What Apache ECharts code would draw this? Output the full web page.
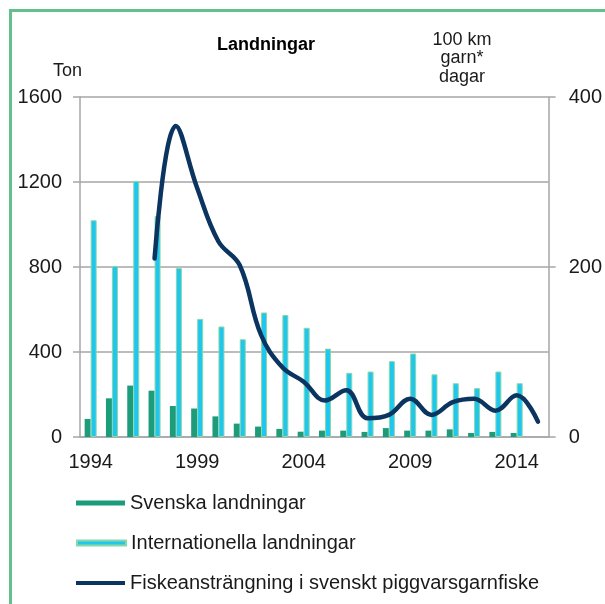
<!DOCTYPE html>
<html>
<head>
<meta charset="utf-8">
<script src="https://cdn.jsdelivr.net/npm/echarts@6/dist/echarts.min.js"></script>
<style>
  html, body { margin: 0; padding: 0; background: #fff; }
  #chart { width: 605px; height: 604px; }
</style>
</head>
<body>
<div id="chart"></div>
<script>
// år 1994-2015
var years = ['1994', '1995', '1996', '1997', '1998', '1999', '2000', '2001', '2002', '2003', '2004',
  '2005', '2006', '2007', '2008', '2009', '2010', '2011', '2012', '2013', '2014', '2015'];
// landningar i ton
var svenska = [85, 182, 242, 218, 146, 134, 97, 63, 49, 38, 25, 30, 30, 24, 42, 30, 30, 36, 19, 24, 19, null];
var internationella = [1020, 805, 1205, 1040, 795, 556, 520, 460, 586, 574, 514, 416, 302, 308, 357, 393, 295, 253, 230, 308, 253, null];
// 100 km garn * dagar
var anstrangning = [null, null, null, 210, 366, 293, 230, 202, 120, 82, 65, 43, 55, 22, 26, 45, 26, 41, 45, 31, 49, 18];
// enhetsrubrik för högra axeln
var enhet = ['100 km', 'garn*', 'dagar'];

var chart = echarts.init(document.getElementById('chart'));
var font = 'Liberation Sans, Arial, sans-serif';
var grey = '#a6a6a6';

function legendBox(name, top, h) {
  return {
    data: [name], left: 71, top: top, icon: 'rect',
    itemWidth: 49, itemHeight: h, itemGap: 0,
    textStyle: { fontSize: 20, color: '#1a1a1a' }
  };
}

var graphics = [
  // grön ram, överkant och vänsterkant
  { type: 'rect', shape: { x: 9, y: 9, width: 596, height: 3 }, style: { fill: '#63c08e' } },
  { type: 'rect', shape: { x: 9, y: 9, width: 3, height: 595 }, style: { fill: '#63c08e' } },
  {
    type: 'text', x: 266, y: 45,
    style: { text: 'Landningar', font: 'bold 18px ' + font, fill: '#000', textAlign: 'center', textVerticalAlign: 'middle' }
  },
  {
    type: 'text', x: 53, y: 71,
    style: { text: 'Ton', font: '18px ' + font, fill: '#1a1a1a', textAlign: 'left', textVerticalAlign: 'middle' }
  }
];
enhet.forEach(function (t, i) {
  graphics.push({
    type: 'text', x: 462, y: 40 + i * 18.5,
    style: { text: t, font: '18px ' + font, fill: '#1a1a1a', textAlign: 'center', textVerticalAlign: 'middle' }
  });
});

var option = {
  animation: false,
  textStyle: { fontFamily: font },
  grid: { left: 80, right: 56, top: 97, bottom: 167 },
  legend: [
    legendBox('Svenska landningar', 488, 5),
    legendBox('Internationella landningar', 528, 5),
    legendBox('Fiskeansträngning i svenskt piggvarsgarnfiske', 568, 4)
  ],
  graphic: graphics,
  xAxis: {
    type: 'category',
    data: years,
    axisLine: { lineStyle: { color: grey, width: 1.5 } },
    axisTick: { interval: 4, length: 7, lineStyle: { color: grey, width: 1.5 } },
    axisLabel: { interval: 4, fontSize: 20, color: '#1a1a1a', margin: 15 }
  },
  yAxis: [
    {
      type: 'value', min: 0, max: 1600, interval: 400,
      axisLine: { show: true, lineStyle: { color: grey, width: 1.5 } },
      axisTick: { show: true, length: 7, lineStyle: { color: grey, width: 1.5 } },
      axisLabel: { fontSize: 20, color: '#1a1a1a', margin: 18, formatter: function (v) { return String(v); } },
      splitLine: { lineStyle: { color: grey, width: 1.5 } }
    },
    {
      type: 'value', min: 0, max: 400, interval: 200,
      axisLine: { show: true, lineStyle: { color: grey, width: 1.5 } },
      axisTick: { show: true, length: 7, lineStyle: { color: grey, width: 1.5 } },
      axisLabel: { fontSize: 20, color: '#1a1a1a', margin: 20, formatter: function (v) { return String(v); } },
      splitLine: { show: false }
    }
  ],
  series: [
    {
      name: 'Svenska landningar',
      type: 'bar',
      data: svenska,
      barWidth: 6,
      barGap: '0%',
      itemStyle: { color: '#1d9c7c' }
    },
    {
      name: 'Internationella landningar',
      type: 'bar',
      data: internationella,
      barWidth: 6,
      itemStyle: { color: '#1fc6f0', borderColor: '#8ad8a6', borderWidth: 1 }
    },
    {
      name: 'Fiskeansträngning i svenskt piggvarsgarnfiske',
      type: 'line',
      yAxisIndex: 1,
      data: anstrangning,
      smooth: 0.4,
      symbol: 'none',
      lineStyle: { color: '#0b3560', width: 4.5, cap: 'round' },
      itemStyle: { color: '#0b3560' }
    }
  ]
};

chart.setOption(option);
</script>
</body>
</html>
